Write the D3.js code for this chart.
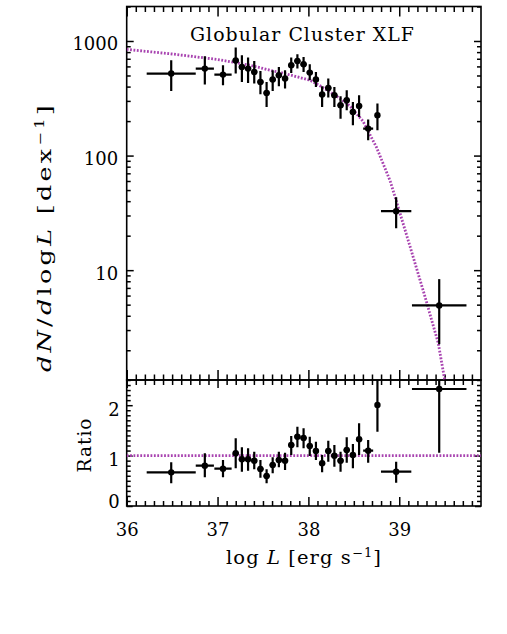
<!DOCTYPE html>
<html><head><meta charset="utf-8">
<script src="https://cdn.jsdelivr.net/npm/d3@7"></script>
<style>
body{margin:0;background:#fff}
svg{display:block}
text{font-family:"DejaVu Serif",serif;fill:#000}
</style>
</head><body>
<svg id="c" width="507" height="634"></svg>
<script>
// ---------- data ----------
const logL = [36.49, 36.86, 37.06, 37.200, 37.268, 37.336, 37.404, 37.472, 37.540, 37.607, 37.675, 37.743, 37.811, 37.879, 37.947, 38.015, 38.083, 38.151, 38.219, 38.286, 38.354, 38.422, 38.490, 38.558, 38.658, 38.760, 38.966, 39.44];
const logLHalfWidth = [0.27, 0.10, 0.095, 0.034, 0.034, 0.034, 0.034, 0.034, 0.034, 0.034, 0.034, 0.034, 0.034, 0.034, 0.034, 0.034, 0.034, 0.034, 0.034, 0.034, 0.034, 0.034, 0.034, 0.034, 0.055, 0.02, 0.167, 0.30];
const dNdlogL = [520, 574, 509, 675, 593, 574, 537, 439, 352, 461, 502, 470, 614, 669, 626, 530, 461, 341, 389, 336, 275, 304, 240, 271, 172, 225, 32.7, 4.92];
const dNLow   = [366, 418, 410, 520, 439, 430, 425, 343, 266, 366, 403, 384, 526, 574, 537, 454, 397, 266, 321, 266, 210, 249, 184, 217, 136, 166, 23.2, 2.26];
const dNHigh  = [679, 735, 614, 876, 750, 716, 669, 548, 439, 555, 593, 555, 716, 766, 725, 626, 537, 403, 470, 397, 329, 372, 294, 336, 206, 285, 43.3, 8.35];

const ratio     = [0.668, 0.80, 0.74, 1.046, 0.927, 0.927, 0.899, 0.734, 0.595, 0.813, 0.913, 0.899, 1.21, 1.375, 1.349, 1.19, 1.091, 0.847, 1.091, 0.998, 0.899, 1.111, 1.012, 1.323, 1.097, 2.004, 0.681, 2.321];
const ratioLow  = [0.45, 0.569, 0.569, 0.748, 0.681, 0.70, 0.728, 0.562, 0.45, 0.649, 0.768, 0.714, 1.012, 1.165, 1.145, 0.992, 0.913, 0.669, 0.879, 0.78, 0.681, 0.859, 0.748, 1.012, 0.859, 1.474, 0.462, 1.058];
const ratioHigh = [0.867, 1.046, 0.913, 1.343, 1.165, 1.145, 1.077, 0.913, 0.728, 0.966, 1.077, 1.058, 1.389, 1.573, 1.541, 1.375, 1.276, 1.012, 1.296, 1.21, 1.077, 1.363, 1.23, 1.64, 1.31, 2.9, 0.879, 3.6];

const modelLogL = [36.0, 36.5, 37.0, 37.36, 37.58, 37.74, 38.02, 38.12, 38.31, 38.46, 38.6, 38.75, 38.9, 39.0, 39.12, 39.28, 39.43, 39.52];
const modelVal  = [845, 770, 690, 614, 555, 520, 454, 410, 330, 270, 200, 118, 60, 33, 16, 6, 2.3, 0.9];

const ratioRefLogL = [36.0, 39.9];
const ratioRefVal = [1, 1];

const xMajorTicks = [36, 37, 38, 39];
const yTopMajorTicks = [10, 100, 1000];
const yBotMajorTicks = [0, 1, 2];

const titleText = "Globular Cluster XLF";

// ---------- layout ----------
const L = 126.7, R = 481, T = 6.5, MID = 380, B = 506;
const svg = d3.select("#c");
const MAG = "#a843b0";

const x = d3.scaleLinear().domain([36, 39.9]).range([L, R]);
const yTop = d3.scaleLog().domain([1.1, 2000]).range([MID, T]);
const yBot = d3.scaleLinear().domain([0, 2.5]).range([B, MID]);

const defs = svg.append("defs");
defs.append("clipPath").attr("id","clipTop").append("rect").attr("x",L).attr("y",T).attr("width",R-L).attr("height",MID-T);
defs.append("clipPath").attr("id","clipBot").append("rect").attr("x",L).attr("y",MID).attr("width",R-L).attr("height",B-MID);

const xMinor = d3.range(361, 399).map(d => d/10).filter(d => Math.abs(d - Math.round(d)) > 1e-6);
const yTopMinor = yTop.ticks().filter(d => !yTopMajorTicks.includes(d));
const yBotMinor = d3.range(0, 26).map(d => d/10).filter(d => Math.abs(d - Math.round(d)) > 1e-6);

function tickAxis(axisGen, scale, values, size, tx, ty){
  const g = svg.append("g").attr("transform", `translate(${tx},${ty})`)
    .call(axisGen(scale).tickValues(values).tickSize(size).tickSizeOuter(0).tickFormat(""));
  g.select(".domain").remove();
  g.selectAll("line").attr("stroke","#000").attr("stroke-width",1.5);
  return g;
}

// top panel ticks
tickAxis(d3.axisTop, x, xMajorTicks, -10, 0, T);
tickAxis(d3.axisTop, x, xMinor, -5.5, 0, T);
tickAxis(d3.axisBottom, x, xMajorTicks, -10, 0, MID);
tickAxis(d3.axisBottom, x, xMinor, -5.5, 0, MID);
tickAxis(d3.axisLeft, yTop, yTopMajorTicks, -7, L, 0);
tickAxis(d3.axisLeft, yTop, yTopMinor, -4, L, 0);
tickAxis(d3.axisRight, yTop, yTopMajorTicks, -7, R, 0);
tickAxis(d3.axisRight, yTop, yTopMinor, -4, R, 0);
// bottom panel ticks
tickAxis(d3.axisTop, x, xMajorTicks, -8, 0, MID);
tickAxis(d3.axisTop, x, xMinor, -5, 0, MID);
tickAxis(d3.axisBottom, x, xMajorTicks, -9, 0, B);
tickAxis(d3.axisBottom, x, xMinor, -5, 0, B);
tickAxis(d3.axisLeft, yBot, yBotMajorTicks, -6, L, 0);
tickAxis(d3.axisLeft, yBot, yBotMinor, -4, L, 0);
tickAxis(d3.axisRight, yBot, yBotMajorTicks, -6, R, 0);
tickAxis(d3.axisRight, yBot, yBotMinor, -4, R, 0);

// tick labels
function labelAxis(axisGen, scale, values, fmt, pad, tx, ty){
  const g = svg.append("g").attr("transform", `translate(${tx},${ty})`)
    .call(axisGen(scale).tickValues(values).tickSize(0).tickPadding(pad).tickFormat(fmt));
  g.select(".domain").remove();
  g.selectAll("line").remove();
  g.selectAll("text").attr("font-family","DejaVu Serif").attr("font-size",18).attr("fill","#000");
  return g;
}
labelAxis(d3.axisBottom, x, xMajorTicks, d3.format("d"), 17, 0, B);
const gyt = labelAxis(d3.axisLeft, yTop, yTopMajorTicks, d3.format("d"), 8.5, L, 0);
gyt.selectAll("text").attr("dy","0.5em");
const gyb = labelAxis(d3.axisLeft, yBot, yBotMajorTicks, d3.format("d"), 7, L, 0);
gyb.selectAll("text").attr("dy","0.55em");
gyb.selectAll("text").filter(d => d === 0).attr("dy","0.1em");

// frames
svg.append("rect").attr("x",L).attr("y",T).attr("width",R-L).attr("height",MID-T).attr("fill","none").attr("stroke","#000").attr("stroke-width",1.6);
svg.append("rect").attr("x",L).attr("y",MID).attr("width",R-L).attr("height",B-MID).attr("fill","none").attr("stroke","#000").attr("stroke-width",1.6);

// ---------- top panel ----------
const gTop = svg.append("g").attr("clip-path","url(#clipTop)");
const modelLine = d3.line().x((d,i) => x(modelLogL[i])).y((d,i) => yTop(modelVal[i]));
gTop.append("path").attr("d", modelLine(modelVal)).attr("fill","none").attr("stroke",MAG)
  .attr("stroke-width",2.8).attr("stroke-dasharray","1.8,1.6");

const pts = logL.map((v,i) => ({i}));
gTop.selectAll(".hx").data(pts).join("line")
  .attr("x1", d => x(logL[d.i]-logLHalfWidth[d.i])).attr("x2", d => x(logL[d.i]+logLHalfWidth[d.i]))
  .attr("y1", d => yTop(dNdlogL[d.i])).attr("y2", d => yTop(dNdlogL[d.i]))
  .attr("stroke","#000").attr("stroke-width",2.2);
gTop.selectAll(".vy").data(pts).join("line")
  .attr("x1", d => x(logL[d.i])).attr("x2", d => x(logL[d.i]))
  .attr("y1", d => yTop(dNLow[d.i])).attr("y2", d => yTop(dNHigh[d.i]))
  .attr("stroke","#000").attr("stroke-width",2.2);
gTop.selectAll(".pt").data(pts).join("circle")
  .attr("cx", d => x(logL[d.i])).attr("cy", d => yTop(dNdlogL[d.i])).attr("r",3.2).attr("fill","#000");

// title
svg.append("text").attr("x",302.5).attr("y",41).attr("text-anchor","middle")
  .attr("font-size",18).attr("letter-spacing",1).attr("textLength",225).attr("lengthAdjust","spacingAndGlyphs").text(titleText);

// ---------- bottom panel ----------
const gBot = svg.append("g").attr("clip-path","url(#clipBot)");
const refLine = d3.line().x((d,i) => x(ratioRefLogL[i])).y((d,i) => yBot(ratioRefVal[i]));
gBot.append("path").attr("d", refLine(ratioRefVal)).attr("fill","none").attr("stroke",MAG)
  .attr("stroke-width",2.8).attr("stroke-dasharray","1.8,1.6");
gBot.selectAll(".hx").data(pts).join("line")
  .attr("x1", d => x(logL[d.i]-logLHalfWidth[d.i])).attr("x2", d => x(logL[d.i]+logLHalfWidth[d.i]))
  .attr("y1", d => yBot(ratio[d.i])).attr("y2", d => yBot(ratio[d.i]))
  .attr("stroke","#000").attr("stroke-width",2.2);
gBot.selectAll(".vy").data(pts).join("line")
  .attr("x1", d => x(logL[d.i])).attr("x2", d => x(logL[d.i]))
  .attr("y1", d => yBot(ratioLow[d.i])).attr("y2", d => yBot(ratioHigh[d.i]))
  .attr("stroke","#000").attr("stroke-width",2.2);
gBot.selectAll(".pt").data(pts).join("circle")
  .attr("cx", d => x(logL[d.i])).attr("cy", d => yBot(ratio[d.i])).attr("r",3.2).attr("fill","#000");

// ---------- axis titles ----------
const yl = svg.append("text").attr("transform","translate(51,237) rotate(-90)")
  .attr("text-anchor","middle").attr("font-size",19).attr("letter-spacing",2.5)
  .attr("textLength",270).attr("lengthAdjust","spacingAndGlyphs");
yl.append("tspan").attr("font-style","italic").text("dN");
yl.append("tspan").text("/");
yl.append("tspan").attr("font-style","italic").text("d");
yl.append("tspan").text("log");
yl.append("tspan").attr("font-style","italic").text("L");
yl.append("tspan").text("  [dex");
yl.append("tspan").attr("font-size",12).attr("dy",-7).text("\u22121");
yl.append("tspan").attr("dy",7).text("]");

const xl = svg.append("text").attr("x",304).attr("y",564).attr("text-anchor","middle")
  .attr("font-size",18).attr("letter-spacing",1).attr("textLength",156).attr("lengthAdjust","spacingAndGlyphs");
xl.append("tspan").text("log ");
xl.append("tspan").attr("font-style","italic").text("L");
xl.append("tspan").text(" [erg s");
xl.append("tspan").attr("font-size",12).attr("dy",-7).text("\u22121");
xl.append("tspan").attr("dy",7).text("]");

svg.append("text").attr("transform","translate(91,445) rotate(-90)").attr("text-anchor","middle")
  .attr("font-size",18).attr("letter-spacing",1).attr("textLength",55).attr("lengthAdjust","spacingAndGlyphs").text("Ratio");
</script>
</body></html>
